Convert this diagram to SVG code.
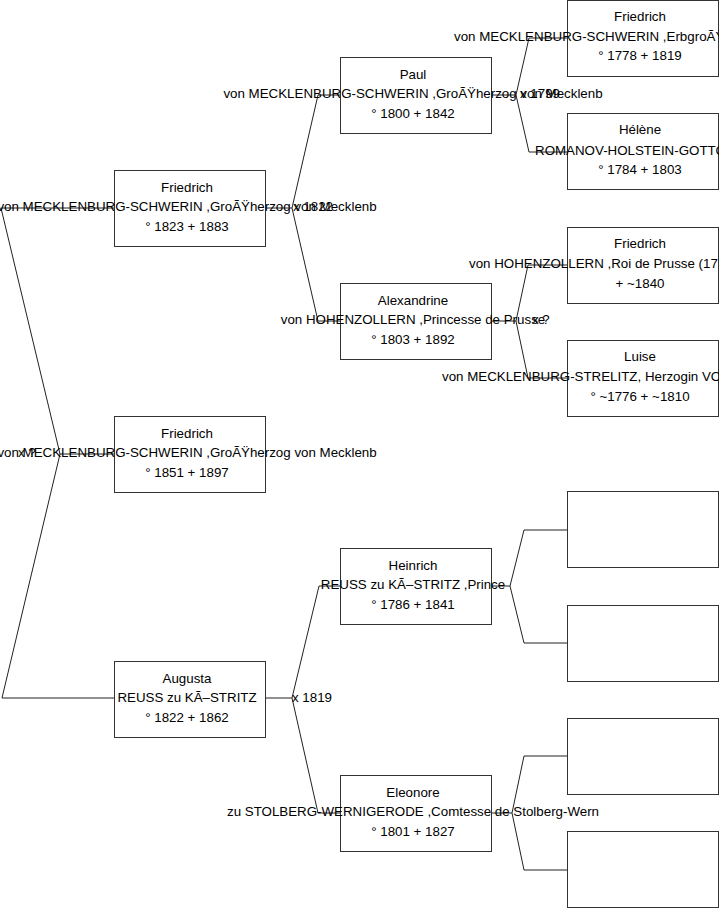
<svg xmlns="http://www.w3.org/2000/svg" width="719" height="908" viewBox="0 0 719 908">
<style>
.box{fill:#fff;stroke:#333;stroke-width:1}
.conn{fill:none;stroke:#222;stroke-width:1}
text{font-family:"Liberation Sans",Arial,sans-serif;font-size:13.333px;fill:#000}
.c{text-anchor:middle}
</style>
<rect width="719" height="908" fill="#fff"/>
<g id="connectors">
<path class="conn" d="M114,208 H1 L60,454 M114,454 H60 L2,698 H114"/>
<path class="conn" d="M340,95 H318 L292,208 L318,321 H340 M265,208 H292"/>
<path class="conn" d="M340,586 H319 L292,698 L318,813 H340 M265,698 H292"/>
<path class="conn" d="M567,38 H529 L516,95 L529,152 H567 M491,95 H516"/>
<path class="conn" d="M567,265 H528 L516,321 L528,378 H567 M491,321 H516"/>
<path class="conn" d="M567,530 H524 L510,586 L524,643 H567 M491,586 H510"/>
<path class="conn" d="M567,756 H524 L512,813 L524,870 H567 M491,813 H512"/>
</g>
<g id="n1">
<rect class="box" x="114.5" y="170.5" width="151" height="76"/>
<text class="c" x="187" y="191.5">Friedrich</text>
<text class="c" x="187" y="211">von MECKLENBURG-SCHWERIN ,GroÃŸherzog von Mecklenb</text>
<text class="c" x="187" y="230.5">° 1823 + 1883</text>
</g>
<g id="n2">
<rect class="box" x="114.5" y="416.5" width="151" height="76"/>
<text class="c" x="187" y="437.5">Friedrich</text>
<text class="c" x="187" y="457">von MECKLENBURG-SCHWERIN ,GroÃŸherzog von Mecklenb</text>
<text class="c" x="187" y="476.5">° 1851 + 1897</text>
</g>
<g id="n3">
<rect class="box" x="114.5" y="661.5" width="151" height="76"/>
<text class="c" x="187" y="682.5">Augusta</text>
<text class="c" x="187" y="702">REUSS zu KÃ–STRITZ</text>
<text class="c" x="187" y="721.5">° 1822 + 1862</text>
</g>
<g id="n4">
<rect class="box" x="340.5" y="57.5" width="151" height="76"/>
<text class="c" x="413" y="78.5">Paul</text>
<text class="c" x="413" y="98">von MECKLENBURG-SCHWERIN ,GroÃŸherzog von Mecklenb</text>
<text class="c" x="413" y="117.5">° 1800 + 1842</text>
</g>
<g id="n5">
<rect class="box" x="340.5" y="283.5" width="151" height="76"/>
<text class="c" x="413" y="304.5">Alexandrine</text>
<text class="c" x="413" y="324">von HOHENZOLLERN ,Princesse de Prusse</text>
<text class="c" x="413" y="343.5">° 1803 + 1892</text>
</g>
<g id="n6">
<rect class="box" x="340.5" y="548.5" width="151" height="76"/>
<text class="c" x="413" y="569.5">Heinrich</text>
<text class="c" x="413" y="589">REUSS zu KÃ–STRITZ ,Prince</text>
<text class="c" x="413" y="608.5">° 1786 + 1841</text>
</g>
<g id="n7">
<rect class="box" x="340.5" y="775.5" width="151" height="76"/>
<text class="c" x="413" y="796.5">Eleonore</text>
<text class="c" x="413" y="816">zu STOLBERG-WERNIGERODE ,Comtesse de Stolberg-Wern</text>
<text class="c" x="413" y="835.5">° 1801 + 1827</text>
</g>
<g id="n8">
<rect class="box" x="567.5" y="0.5" width="151" height="76"/>
<text class="c" x="640" y="20.5">Friedrich</text>
<text x="454" y="40.5">von MECKLENBURG-SCHWERIN ,ErbgroÃŸ</text>
<text class="c" x="640" y="60">° 1778 + 1819</text>
</g>
<g id="n9">
<rect class="box" x="567.5" y="113.5" width="151" height="76"/>
<text class="c" x="640" y="134">Hélène</text>
<text x="535" y="154.5">ROMANOV-HOLSTEIN-GOTTO</text>
<text class="c" x="640" y="174">° 1784 + 1803</text>
</g>
<g id="n10">
<rect class="box" x="567.5" y="227.5" width="151" height="76"/>
<text class="c" x="640" y="248">Friedrich</text>
<text x="469" y="268">von HOHENZOLLERN ,Roi de Prusse (17</text>
<text class="c" x="640" y="287.5">+ ~1840</text>
</g>
<g id="n11">
<rect class="box" x="567.5" y="340.5" width="151" height="76"/>
<text class="c" x="640" y="361">Luise</text>
<text x="442" y="381">von MECKLENBURG-STRELITZ, Herzogin VO</text>
<text class="c" x="640" y="400.5">° ~1776 + ~1810</text>
</g>
<g id="n12"><rect class="box" x="567.5" y="491.5" width="151" height="76"/></g>
<g id="n13"><rect class="box" x="567.5" y="605.5" width="151" height="76"/></g>
<g id="n14"><rect class="box" x="567.5" y="718.5" width="151" height="76"/></g>
<g id="n15"><rect class="box" x="567.5" y="831.5" width="151" height="76"/></g>
<g id="labels">
<text x="293" y="211">x 1822</text>
<text x="520" y="98">x 1799</text>
<text x="532" y="324">x ?</text>
<text x="18" y="457">x ?</text>
<text x="292" y="701.5">x 1819</text>
</g>
</svg>
